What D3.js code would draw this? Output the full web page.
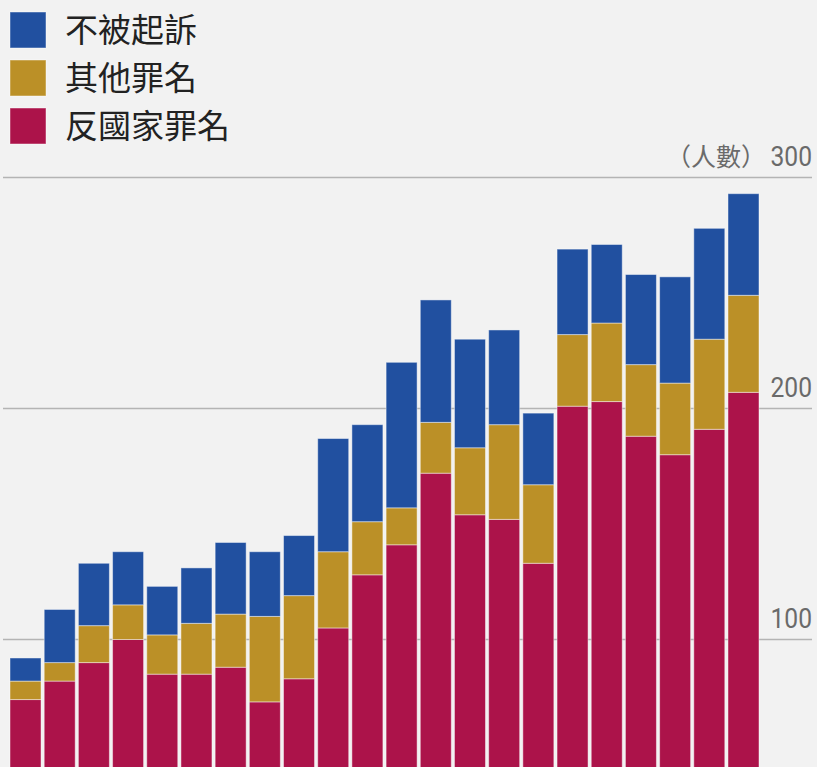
<!DOCTYPE html>
<html>
<head>
<meta charset="utf-8">
<script src="https://cdn.jsdelivr.net/npm/d3@7"></script>
<style>
  html, body { margin: 0; padding: 0; background: #f2f2f2; overflow: hidden; }
</style>
</head>
<body>
<script>
// stacked bars, 22 periods (axis labels not shown in the source)
var periods = ["1","2","3","4","5","6","7","8","9","10","11","12","13","14","15","16","17","18","19","20","21","22"];
var antiState = [74, 82, 90, 100, 85, 85, 88, 73, 83, 105, 128, 141, 172, 154, 152, 133, 201, 203, 188, 180, 191, 207];
var otherCrime = [8, 8, 16, 15, 17, 22, 23, 37, 36, 33, 23, 16, 22, 29, 41, 34, 31, 34, 31, 31, 39, 42];
var notCharged = [10, 23, 27, 23, 21, 24, 31, 28, 26, 49, 42, 63, 53, 47, 41, 31, 37, 34, 39, 46, 48, 44];

var seriesKeys = ["antiState", "otherCrime", "notCharged"];
var seriesNames = {antiState: "反國家罪名", otherCrime: "其他罪名", notCharged: "不被起訴"};
var colors = {antiState: "#ac134a", otherCrime: "#bb9027", notCharged: "#2150a0"};
var legendOrder = ["notCharged", "otherCrime", "antiState"];
var yTicks = [100, 200, 300];

var width = 817, height = 767;

var svg = d3.select("body").append("svg")
    .attr("width", width).attr("height", height)
    .style("display", "block")
    .style("background", "#f2f2f2");

var rows = periods.map(function (p, i) {
    return {period: p, antiState: antiState[i], otherCrime: otherCrime[i], notCharged: notCharged[i]};
});
var stacked = d3.stack().keys(seriesKeys)(rows);

var x = d3.scaleBand().domain(periods).range([10, 759]).paddingInner(0.093).paddingOuter(0);
var y = d3.scaleLinear().domain([0, 300]).range([870.5, 177.5]);

// grid lines + labels on the right
var grid = svg.append("g");
grid.selectAll("line").data(yTicks).enter().append("line")
    .attr("x1", 3).attr("x2", 812)
    .attr("y1", function (d) { return y(d); })
    .attr("y2", function (d) { return y(d); })
    .style("stroke", "#b4b4b4")
    .style("stroke-width", 1.5);

var bars = svg.append("g");
stacked.forEach(function (layer) {
    bars.append("g").selectAll("rect").data(layer).enter().append("rect")
        .attr("x", function (d) { return x(d.data.period); })
        .attr("y", function (d) { return y(d[1]); })
        .attr("width", x.bandwidth())
        .attr("height", function (d) { return y(d[0]) - y(d[1]); })
        .style("fill", colors[layer.key])
        .style("stroke", "rgba(255,255,255,0.45)")
        .style("stroke-width", 1);
});

grid.selectAll("text").data(yTicks).enter().append("text")
    .attr("transform", function (d) { return "translate(812," + (y(d) - 12) + ") scale(0.88,1)"; })
    .attr("text-anchor", "end")
    .style("font-family", "Roboto, 'Liberation Sans', sans-serif")
    .style("font-size", "28px")
    .style("fill", "#6a6a6a")
    .text(function (d) { return d; });

svg.append("text")
    .attr("x", 766).attr("y", y(300) - 12)
    .attr("text-anchor", "end")
    .style("font-family", "'Noto Sans CJK TC', sans-serif")
    .style("font-size", "25px")
    .style("fill", "#6a6a6a")
    .text("（人數）");

// legend
var legend = svg.append("g");
legendOrder.forEach(function (k, i) {
    legend.append("rect")
        .attr("x", 10).attr("y", 12 + i * 48)
        .attr("width", 36).attr("height", 36)
        .style("fill", colors[k])
        .style("stroke", "rgba(255,255,255,0.45)")
        .style("stroke-width", 1);
    legend.append("text")
        .attr("x", 65).attr("y", 42 + i * 48)
        .style("font-family", "'Noto Sans CJK TC', sans-serif")
        .style("font-size", "33px")
        .style("fill", "#222")
        .text(seriesNames[k]);
});
</script>
</body>
</html>
